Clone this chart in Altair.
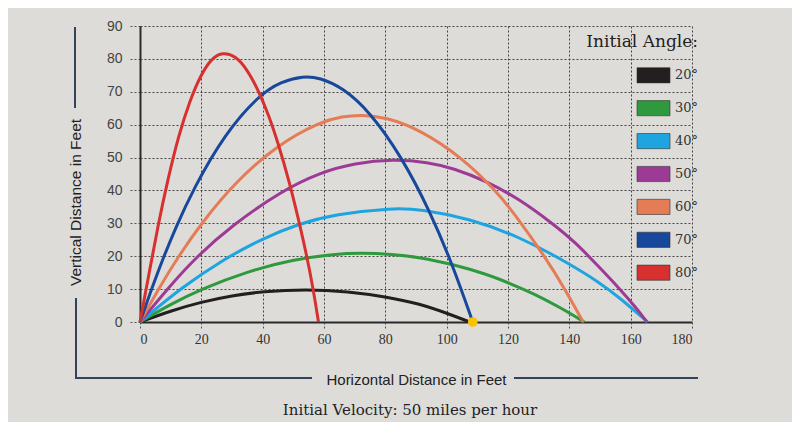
import altair as alt
import pandas as pd

# ---- data ----
angles = ["20°", "30°", "40°", "50°", "60°", "70°", "80°"]
colors = ["#231f20", "#2e9a3d", "#1ea5e0", "#9c3a95", "#e47c55", "#17489b", "#d6302f"]

x_20 = [0, 10, 20, 30, 40, 54, 68, 80, 91, 100, 107.5]
y_20 = [0, 3.4, 6.1, 8.0, 9.3, 10.0, 9.3, 7.7, 5.6, 2.7, 0]

x_30 = [0, 10, 20, 35, 50, 63.5, 72.4, 82, 91.2, 102, 112.9, 121, 129.2, 137, 144.9]
y_30 = [0, 5.4, 10, 15.4, 19, 20.7, 21, 20.6, 19.7, 17.5, 14.6, 11.6, 8.3, 4.4, 0]

x_40 = [0, 13.6, 27.1, 40, 51.6, 63.5, 82.7, 91.2, 107.5, 123.8, 140.1, 150, 156.4, 165.5]
y_40 = [0, 10.5, 19, 25.4, 29.8, 32.8, 34.7, 34.3, 31.5, 25.9, 17.7, 11.9, 7.4, 0]

x_50 = [0, 9.8, 18.5, 29.9, 46.1, 58.6, 70, 82.6, 94, 102, 112.9, 123.8, 134.6, 142, 149.8, 156, 161.8, 165.3]
y_50 = [0, 11, 19.9, 29.3, 39.8, 45.4, 48.3, 49.5, 48.6, 46.8, 42.9, 37.3, 29.9, 24.2, 16.6, 10.5, 4.3, 0]

x_60 = [0, 6.5, 12.5, 20, 31, 45, 58.6, 66, 72.3, 80, 91.2, 105.3, 116, 121.6, 132.4, 139, 144.5]
y_60 = [0, 10.8, 19.9, 30, 42.5, 54, 60.8, 62.5, 63, 62.3, 58.6, 49.8, 39.9, 33.6, 19.4, 9.3, 0]

x_70 = [0, 4.3, 7.6, 11.4, 17.4, 27.7, 38.8, 46, 53.2, 58.6, 66, 74.9, 85.2, 94.5, 102, 108.5]
y_70 = [0, 11.4, 19.5, 28.2, 40.5, 57.3, 69, 73.1, 74.8, 74.3, 71.3, 64, 50.4, 33.8, 17.2, 0]

x_80 = [0, 3, 6, 9, 12.5, 16.3, 20, 23.5, 27, 31, 35, 38.8, 42, 45, 48.9, 51.6, 54.3, 56.4, 58.2]
y_80 = [0, 15, 30, 43, 56.5, 67.5, 75.5, 80.3, 82, 81, 76.8, 70, 62.8, 54.5, 42, 31.5, 20.5, 10.5, 0]

dot_x = [108.5]
dot_y = [0]

x_ticks = [0, 20, 40, 60, 80, 100, 120, 140, 160, 180]
y_ticks = [0, 10, 20, 30, 40, 50, 60, 70, 80, 90]

x_title = "Horizontal Distance in Feet"
y_title = "Vertical Distance in Feet"
legend_title = "Initial Angle:"
caption = "Initial Velocity: 50 miles per hour"

# ---- build tables ----
series_x = [x_20, x_30, x_40, x_50, x_60, x_70, x_80]
series_y = [y_20, y_30, y_40, y_50, y_60, y_70, y_80]
rows = []
for a, xs_, ys_ in zip(angles, series_x, series_y):
    for i, (xv, yv) in enumerate(zip(xs_, ys_)):
        rows.append({"angle": a, "x": xv, "y": yv, "i": i})
df = pd.DataFrame(rows)
dot_df = pd.DataFrame({"x": dot_x, "y": dot_y})
leg_df = pd.DataFrame({"angle": angles})

SANS = "Liberation Sans, Arial, sans-serif"
SERIF = "Liberation Serif, serif"
WSERIF = "DejaVu Serif, serif"
LINE_C = "#34435c"

W, H = 552, 296

xs = alt.Scale(domain=[0, 180], nice=False, zero=False)
ys = alt.Scale(domain=[0, 90], nice=False)
cs = alt.Scale(domain=angles, range=colors)

x_axis = alt.Axis(
    values=x_ticks, grid=True, gridDash=[2, 2], gridColor="#444", gridWidth=1,
    domainColor="#2a2a2a", domainWidth=2, tickDash=[2, 2], tickSize=6, tickColor="#555",
    labelFont=SERIF, labelFontSize=14, labelColor="#333", labelPadding=4,
    labelOverlap=False,
    title=x_title, titleFont=SANS, titleFontSize=15, titleFontWeight="normal",
    titleColor="#222", titleY=57, titleBaseline="middle",
)
y_axis = alt.Axis(
    values=y_ticks, grid=True, gridDash=[2, 2], gridColor="#444", gridWidth=1,
    domainColor="#2a2a2a", domainWidth=2, tickDash=[2, 2], tickSize=12, tickColor="#555",
    labelFont=SANS, labelFontSize=14, labelColor="#444", labelPadding=6,
    labelOverlap=False,
    title=y_title, titleFont=SANS, titleFontSize=15.5, titleFontWeight="normal",
    titleColor="#222", titleX=-65, titleY=176, titleAngle=270,
    titleAlign="center", titleBaseline="middle",
)

lines = alt.Chart(df).mark_line(strokeWidth=3, interpolate="basis").encode(
    x=alt.X("x:Q", scale=xs, axis=x_axis),
    y=alt.Y("y:Q", scale=ys, axis=y_axis),
    color=alt.Color("angle:N", scale=cs, legend=None),
    detail="angle:N",
    order="i:Q",
)

dot = alt.Chart(dot_df).mark_circle(size=95, color="#f7c300", opacity=1).encode(
    x=alt.X("x:Q", scale=xs, axis=x_axis), y=alt.Y("y:Q", scale=ys, axis=y_axis)
)

plot = alt.layer(lines, dot)

# legend built from the angle list, rows placed by a point scale
leg_y = alt.Y("angle:N", scale=alt.Scale(type="point", domain=angles, range=[49.3, 246.7], padding=0), axis=None)
leg_sw = alt.Chart(leg_df).mark_point(
    shape="M-1,-0.46H1V0.46H-1Z", size=1089, filled=True, opacity=1,
    stroke="#333", strokeWidth=0.6,
).encode(
    x=alt.value(513.5), y=leg_y,
    fill=alt.Color("angle:N", scale=cs, legend=None),
)
leg_txt = alt.Chart(leg_df).mark_text(
    font=WSERIF, fontSize=13, color="#333", align="left", baseline="middle"
).encode(x=alt.value(535), y=leg_y, text="angle:N")

one = pd.DataFrame({"t": [legend_title]})
leg_title = alt.Chart(one).mark_text(
    font=WSERIF, fontSize=17, color="#222", align="right", baseline="middle"
).encode(x=alt.value(558), y=alt.value(16), text="t:N")

cap_df = pd.DataFrame({"t": [caption]})
cap = alt.Chart(cap_df).mark_text(
    font=WSERIF, fontSize=15, color="#222", align="center", baseline="middle"
).encode(x=alt.value(270), y=alt.value(384), text="t:N")

r = pd.DataFrame({"k": [0]})
rule_v1 = alt.Chart(r).mark_rule(color=LINE_C, strokeWidth=2).encode(
    x=alt.value(-65), y=alt.value(1), y2=alt.value(82))
rule_v2 = alt.Chart(r).mark_rule(color=LINE_C, strokeWidth=2).encode(
    x=alt.value(-64), y=alt.value(272), y2=alt.value(353))
rule_h1 = alt.Chart(r).mark_rule(color=LINE_C, strokeWidth=2).encode(
    x=alt.value(-65), x2=alt.value(172), y=alt.value(352))
rule_h2 = alt.Chart(r).mark_rule(color=LINE_C, strokeWidth=2).encode(
    x=alt.value(374), x2=alt.value(558), y=alt.value(352))

chart = alt.layer(
    plot, leg_sw, leg_txt, leg_title, cap, rule_v1, rule_v2, rule_h1, rule_h2
).resolve_scale(y="independent").properties(
    width=W, height=H,
    autosize=alt.AutoSizeParams(type="none"),
    padding={"left": 132, "top": 18, "right": 100, "bottom": 100},
    background="#dedcd9",
).configure_view(stroke=None)

chart.save("out.html", embed_options={"renderer": "svg", "actions": False})
